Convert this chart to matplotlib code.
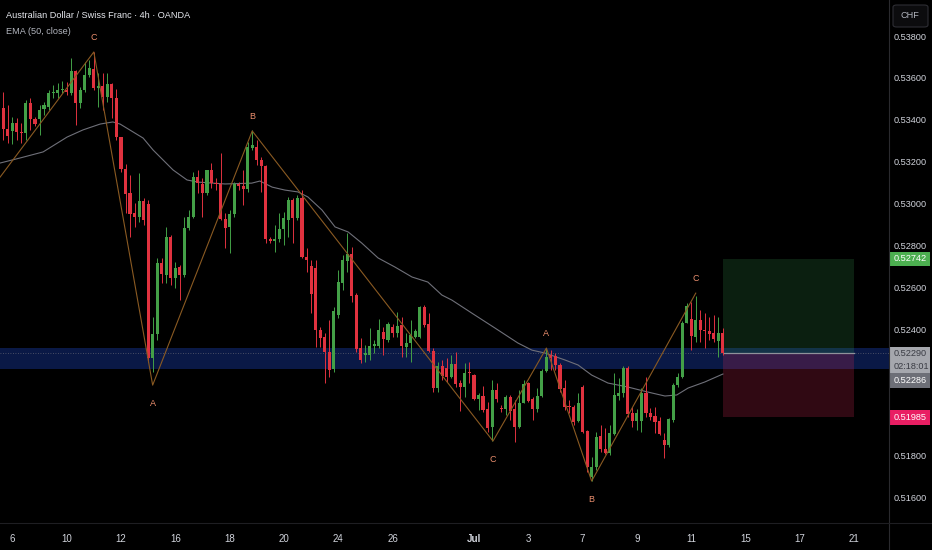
import matplotlib
matplotlib.use("Agg")
import matplotlib.pyplot as plt
from matplotlib.patches import Rectangle, FancyBboxPatch
from matplotlib.transforms import blended_transform_factory
import numpy as np

plt.rcParams['font.family'] = ['Liberation Sans', 'DejaVu Sans']

# ---------------- data (4h candles, index 0 = first full candle) ----------------
start_idx = -1
opens = [0.53366, 0.53461, 0.53361, 0.53352, 0.53390, 0.53347, 0.53342, 0.53485, 0.53409, 0.53409,
         0.53457, 0.53466, 0.53533, 0.53533, 0.53547, 0.53547, 0.53533, 0.53638, 0.53485, 0.53547,
         0.53619, 0.53648, 0.53557, 0.53567, 0.53514, 0.53576, 0.53509, 0.53323, 0.53170, 0.53056,
         0.52960, 0.52941, 0.53018, 0.53003, 0.52268, 0.52383, 0.52722, 0.52664, 0.52846, 0.52650,
         0.52703, 0.52664, 0.52889, 0.52941, 0.53132, 0.53099, 0.53056, 0.53166, 0.53103, 0.53099,
         0.52932, 0.52894, 0.52956, 0.53099, 0.53089, 0.53075, 0.53271, 0.53275, 0.53213, 0.53185,
         0.52836, 0.52827, 0.52836, 0.52884, 0.52927, 0.53022, 0.52936, 0.53032, 0.52750, 0.52707,
         0.52698, 0.52402, 0.52369, 0.52297, 0.52216, 0.52474, 0.52626, 0.52731, 0.52765, 0.52569,
         0.52316, 0.52283, 0.52283, 0.52326, 0.52326, 0.52392, 0.52354, 0.52416, 0.52388, 0.52426,
         0.52321, 0.52340, 0.52369, 0.52369, 0.52512, 0.52431, 0.52302, 0.52125, 0.52230, 0.52221,
         0.52178, 0.52240, 0.52149, 0.52130, 0.52202, 0.52187, 0.52073, 0.52087, 0.52025, 0.51939,
         0.52115, 0.52030, 0.52025, 0.52082, 0.52025, 0.51939, 0.52054, 0.52149, 0.52073, 0.52025,
         0.52087, 0.52206, 0.52283, 0.52278, 0.52235, 0.52125, 0.52039, 0.52034, 0.51968, 0.52130,
         0.51920, 0.51700, 0.51748, 0.51896, 0.51834, 0.51815, 0.51906, 0.52087, 0.52101, 0.52221,
         0.52006, 0.51968, 0.51968, 0.52101, 0.52006, 0.51991, 0.51968, 0.51877, 0.51853, 0.51972,
         0.52139, 0.52178, 0.52435, 0.52454, 0.52369, 0.52450, 0.52402, 0.52397, 0.52388, 0.52349,
         0.52388]
highs = [0.53485, 0.53538, 0.53476, 0.53419, 0.53414, 0.53390, 0.53500, 0.53509, 0.53419, 0.53476,
         0.53490, 0.53547, 0.53571, 0.53581, 0.53590, 0.53586, 0.53700, 0.53643, 0.53562, 0.53681,
         0.53691, 0.53729, 0.53629, 0.53629, 0.53629, 0.53581, 0.53552, 0.53323, 0.53194, 0.53142,
         0.53008, 0.53151, 0.53032, 0.53022, 0.52464, 0.52746, 0.52746, 0.52894, 0.52855, 0.52726,
         0.52712, 0.52941, 0.52975, 0.53156, 0.53166, 0.53127, 0.53166, 0.53199, 0.53127, 0.53247,
         0.52960, 0.52975, 0.53108, 0.53108, 0.53166, 0.53299, 0.53357, 0.53309, 0.53228, 0.53189,
         0.52846, 0.52903, 0.52960, 0.52965, 0.53037, 0.53032, 0.53046, 0.53070, 0.52793, 0.52736,
         0.52736, 0.52416, 0.52388, 0.52450, 0.52512, 0.52688, 0.52760, 0.52865, 0.52798, 0.52578,
         0.52364, 0.52330, 0.52412, 0.52354, 0.52454, 0.52416, 0.52440, 0.52431, 0.52488, 0.52464,
         0.52388, 0.52450, 0.52407, 0.52516, 0.52521, 0.52483, 0.52316, 0.52249, 0.52259, 0.52268,
         0.52283, 0.52297, 0.52163, 0.52244, 0.52249, 0.52192, 0.52101, 0.52135, 0.52058, 0.52163,
         0.52149, 0.52044, 0.52092, 0.52092, 0.52068, 0.52115, 0.52163, 0.52154, 0.52082, 0.52125,
         0.52216, 0.52316, 0.52306, 0.52292, 0.52244, 0.52163, 0.52068, 0.52044, 0.52101, 0.52139,
         0.51925, 0.51796, 0.51915, 0.51948, 0.51934, 0.51948, 0.52197, 0.52173, 0.52230, 0.52230,
         0.52034, 0.52025, 0.52125, 0.52178, 0.52030, 0.52034, 0.51987, 0.51910, 0.51982, 0.52149,
         0.52197, 0.52445, 0.52531, 0.52536, 0.52564, 0.52497, 0.52483, 0.52464, 0.52474, 0.52464,
         0.52412]
lows = [0.53357, 0.53309, 0.53294, 0.53290, 0.53309, 0.53294, 0.53309, 0.53357, 0.53376, 0.53333,
        0.53428, 0.53452, 0.53509, 0.53509, 0.53533, 0.53524, 0.53524, 0.53380, 0.53461, 0.53538,
        0.53610, 0.53547, 0.53466, 0.53452, 0.53490, 0.53414, 0.53309, 0.53156, 0.52960, 0.52846,
        0.52894, 0.52917, 0.52903, 0.52249, 0.52202, 0.52354, 0.52626, 0.52626, 0.52617, 0.52602,
        0.52545, 0.52655, 0.52879, 0.52936, 0.53056, 0.52941, 0.53046, 0.53080, 0.53070, 0.52927,
        0.52793, 0.52769, 0.52941, 0.53070, 0.52999, 0.53061, 0.53261, 0.53189, 0.53061, 0.52817,
        0.52817, 0.52774, 0.52822, 0.52808, 0.52846, 0.52817, 0.52927, 0.52746, 0.52679, 0.52483,
        0.52321, 0.52321, 0.52149, 0.52178, 0.52202, 0.52459, 0.52593, 0.52679, 0.52536, 0.52297,
        0.52244, 0.52249, 0.52259, 0.52292, 0.52316, 0.52283, 0.52345, 0.52369, 0.52369, 0.52273,
        0.52273, 0.52249, 0.52364, 0.52364, 0.52416, 0.52297, 0.52106, 0.52106, 0.52163, 0.52154,
        0.52173, 0.52130, 0.52015, 0.52082, 0.52149, 0.52068, 0.52020, 0.52011, 0.51915, 0.51872,
        0.52058, 0.52011, 0.51996, 0.51972, 0.51867, 0.51934, 0.52054, 0.52058, 0.51972, 0.52011,
        0.52082, 0.52202, 0.52211, 0.52211, 0.52106, 0.52020, 0.52006, 0.51948, 0.51963, 0.51910,
        0.51724, 0.51681, 0.51734, 0.51820, 0.51810, 0.51805, 0.51901, 0.52068, 0.52082, 0.51987,
        0.51939, 0.51925, 0.51915, 0.51987, 0.51972, 0.51910, 0.51901, 0.51791, 0.51843, 0.51963,
        0.52130, 0.52173, 0.52435, 0.52306, 0.52345, 0.52345, 0.52316, 0.52354, 0.52345, 0.52273,
        0.52283]
closes = [0.53466, 0.53361, 0.53328, 0.53390, 0.53347, 0.53342, 0.53485, 0.53409, 0.53385, 0.53452,
          0.53476, 0.53533, 0.53538, 0.53547, 0.53552, 0.53538, 0.53638, 0.53485, 0.53547, 0.53619,
          0.53652, 0.53557, 0.53567, 0.53514, 0.53576, 0.53509, 0.53323, 0.53170, 0.53051, 0.52956,
          0.52941, 0.53018, 0.52927, 0.52268, 0.52383, 0.52722, 0.52669, 0.52846, 0.52650, 0.52698,
          0.52664, 0.52889, 0.52941, 0.53132, 0.53103, 0.53056, 0.53166, 0.53103, 0.53099, 0.52932,
          0.52889, 0.52956, 0.53099, 0.53089, 0.53075, 0.53275, 0.53285, 0.53213, 0.53185, 0.52836,
          0.52827, 0.52836, 0.52884, 0.52936, 0.53022, 0.52936, 0.53032, 0.52750, 0.52736, 0.52574,
          0.52402, 0.52364, 0.52297, 0.52211, 0.52493, 0.52631, 0.52736, 0.52765, 0.52564, 0.52311,
          0.52259, 0.52292, 0.52326, 0.52335, 0.52402, 0.52359, 0.52431, 0.52388, 0.52421, 0.52326,
          0.52340, 0.52378, 0.52397, 0.52512, 0.52426, 0.52302, 0.52125, 0.52230, 0.52182, 0.52178,
          0.52240, 0.52144, 0.52130, 0.52197, 0.52197, 0.52073, 0.52092, 0.52020, 0.51934, 0.52115,
          0.52073, 0.52025, 0.52082, 0.52015, 0.51939, 0.52054, 0.52144, 0.52063, 0.52025, 0.52087,
          0.52206, 0.52273, 0.52268, 0.52235, 0.52120, 0.52034, 0.52034, 0.51963, 0.52054, 0.51915,
          0.51748, 0.51748, 0.51891, 0.51834, 0.51815, 0.51910, 0.52092, 0.52101, 0.52221, 0.52001,
          0.51968, 0.52006, 0.52101, 0.52006, 0.51987, 0.51963, 0.51906, 0.51853, 0.51977, 0.52139,
          0.52178, 0.52435, 0.52516, 0.52373, 0.52450, 0.52402, 0.52397, 0.52383, 0.52359, 0.52388,
          0.52290]

# EMA(50) readings at sample candle positions
ema_idx = [-0.7, 3.7, 8.8, 14.1, 17.6, 21.4, 24.2, 25.8, 30.9, 33.1, 37.5, 40.6, 43.0, 49.0, 54.9,
           56.7, 59.4, 62.2, 65.1, 67.3, 70.4, 73.3, 76.2, 79.2, 82.8, 86.5, 90.3, 93.8, 96.9, 99.1,
           103.5, 108.6, 113.7, 116.8, 119.7, 124.1, 127.0, 130.0, 133.6, 138.0, 142.4, 146.2, 148.8,
           151.3, 155.0, 159.0]
ema_val = [0.53199, 0.53223, 0.53252, 0.53323, 0.53357, 0.53385, 0.53395, 0.53385, 0.53318, 0.53261,
           0.53166, 0.53118, 0.53108, 0.53099, 0.53103, 0.53113, 0.53084, 0.53070, 0.53061, 0.53037,
           0.52975, 0.52894, 0.52870, 0.52817, 0.52746, 0.52703, 0.52655, 0.52631, 0.52569, 0.52545,
           0.52483, 0.52412, 0.52340, 0.52306, 0.52292, 0.52259, 0.52235, 0.52187, 0.52149, 0.52130,
           0.52106, 0.52087, 0.52092, 0.52125, 0.52154, 0.52192]

# Zig-zag (ABC) drawing
zz_idx = [-0.7, 20, 33, 55, 108.2, 120, 130, 153]
zz_val = [0.53132, 0.53729, 0.52139, 0.53352, 0.51872, 0.52316, 0.51681, 0.52578]
zz_lab = ['', 'C', 'A', 'B', 'C', 'A', 'B', 'C']
zz_pos = ['', 'above', 'below', 'above', 'below', 'above', 'below', 'above']

# Date axis
xtick_idx = [2, 14, 26, 38, 50, 62, 74, 86, 104, 116, 128, 140, 152, 164, 176, 188]
xtick_lab = ['6', '10', '12', '16', '18', '20', '24', '26', 'Jul', '3', '7', '9', '11', '15', '17', '21']

# Price axis
ytick_vals = [0.538, 0.536, 0.534, 0.532, 0.530, 0.528, 0.526, 0.524, 0.518, 0.516]

# Position tool and zone
entry_price = 0.52290
target_price = 0.52742
stop_price = 0.51985
pos_start, pos_end = 159, 188
zone_low, zone_high = 0.52216, 0.52316
ema_last = 0.52286
countdown = '02:18:01'

# ---------------- figure ----------------
W, H = 932, 550
fig = plt.figure(figsize=(W / 100, H / 100), dpi=100, facecolor='#000000')
axw, axh = 889, 523
ax = fig.add_axes([0, (H - axh) / H, axw / W, axh / H], facecolor='#000000')
ax.set_xlim(-0.73, 195.7)
ax.set_ylim(0.51481, 0.53977)
for s in ax.spines.values():
    s.set_visible(False)

up_col = '#43a047'
dn_col = '#e0323f'
lab_fs = 6.6

# zone band
ax.axhspan(zone_low, zone_high, color='#0a1946', zorder=1, lw=0)

# position boxes
ax.add_patch(Rectangle((pos_start, entry_price), pos_end - pos_start, target_price - entry_price,
                       facecolor=(0.22, 0.62, 0.32, 0.20), edgecolor='none', zorder=1.5))
ax.add_patch(Rectangle((pos_start, stop_price), pos_end - pos_start, entry_price - stop_price,
                       facecolor=(0.80, 0.16, 0.32, 0.24), edgecolor='none', zorder=1.5))
ax.plot([pos_start, pos_end], [entry_price, entry_price], color='#8f929b', lw=0.9, zorder=1.8)

# current price dotted line
ax.axhline(entry_price, color='#5d6070', lw=0.6, ls=(0, (1, 2)), zorder=1.7)

# EMA
ax.plot(ema_idx, ema_val, color='#6f7079', lw=0.8, zorder=2)

# candles
idx = np.arange(start_idx, start_idx + len(opens))
o = np.array(opens); h = np.array(highs); l = np.array(lows); c = np.array(closes)
cols = np.where(c >= o, up_col, dn_col)
ax.vlines(idx, l, h, colors=cols, lw=0.7, zorder=3)
body_lo = np.minimum(o, c)
body_h = np.maximum(np.abs(c - o), 0.00004)
ax.bar(idx, body_h, bottom=body_lo, width=0.68, color=cols, edgecolor='none', zorder=3.2)

# zig-zag
ax.plot(zz_idx, zz_val, color='#8a5a22', lw=0.8, zorder=4)
for xi, yv, lab, pos in zip(zz_idx, zz_val, zz_lab, zz_pos):
    if not lab:
        continue
    off = 0.00068 if pos == 'above' else -0.00086
    ax.text(xi, yv + off, lab, color='#ec8f6e', fontsize=6.5, ha='center', va='center', zorder=5)

# x ticks
ax.set_xticks(xtick_idx)
ax.set_xticklabels(xtick_lab)
ax.tick_params(axis='x', length=0, pad=8, labelsize=7, colors='#d1d4dc')
for t in ax.get_xticklabels():
    if t.get_text() == 'Jul':
        t.set_fontweight('bold')
ax.set_yticks([])

# separators
fig.add_artist(plt.Line2D([axw / W, axw / W], [0, 1], color='#2a2a2e', lw=0.8))
fig.add_artist(plt.Line2D([0, 1], [(H - axh) / H, (H - axh) / H], color='#1e1e22', lw=0.8))

# y tick labels
tr = blended_transform_factory(ax.transAxes, ax.transData)
xl = 894 / axw
for v in ytick_vals:
    ax.text(xl, v, f'{v:.5f}', transform=tr, color='#d1d4dc', fontsize=lab_fs,
            ha='left', va='center', clip_on=False)

def price_box(ymid, hpx, face, lines, tcols):
    hh = hpx / axh * (0.53977 - 0.51481)
    ax.add_patch(Rectangle((890 / axw, ymid - hh / 2), 40 / axw, hh, transform=tr,
                           facecolor=face, edgecolor='none', clip_on=False, zorder=6))
    n = len(lines)
    for k, (txt, tc) in enumerate(zip(lines, tcols)):
        yy = ymid + hh / 2 - hh * (k + 0.5) / n
        ax.text(xl, yy, txt, transform=tr, color=tc, fontsize=lab_fs, ha='left', va='center',
                clip_on=False, zorder=7)

price_box(target_price, 14, '#4caf50', [f'{target_price:.5f}'], ['#ffffff'])
price_box(0.52259, 26, '#a5a7ad', [f'{entry_price:.5f}', countdown], ['#3a3c44', '#3a3c44'])
price_box(0.52161, 15, '#6d6f77', [f'{ema_last:.5f}'], ['#ffffff'])
price_box(stop_price, 15, '#e91e63', [f'{stop_price:.5f}'], ['#ffffff'])

# header texts
fig.text(6 / W, 1 - 15 / H, 'Australian Dollar / Swiss Franc · 4h · OANDA', color='#e6e8ee',
         fontsize=6.6, ha='left', va='center')
fig.text(6 / W, 1 - 31 / H, 'EMA (50, close)', color='#b2b5be', fontsize=6.6, ha='left', va='center')

# CHF box
fig.add_artist(FancyBboxPatch((893 / W, 1 - 27 / H), 35 / W, 22 / H,
                              boxstyle='round,pad=0,rounding_size=0.004',
                              transform=fig.transFigure, facecolor='#0c0c0e',
                              edgecolor='#2e2e34', lw=0.8))
fig.text(910 / W, 1 - 16 / H, 'CHF', color='#b2b5be', fontsize=6.6, ha='center', va='center')

fig.savefig('out.png', dpi=100, facecolor='#000000')
